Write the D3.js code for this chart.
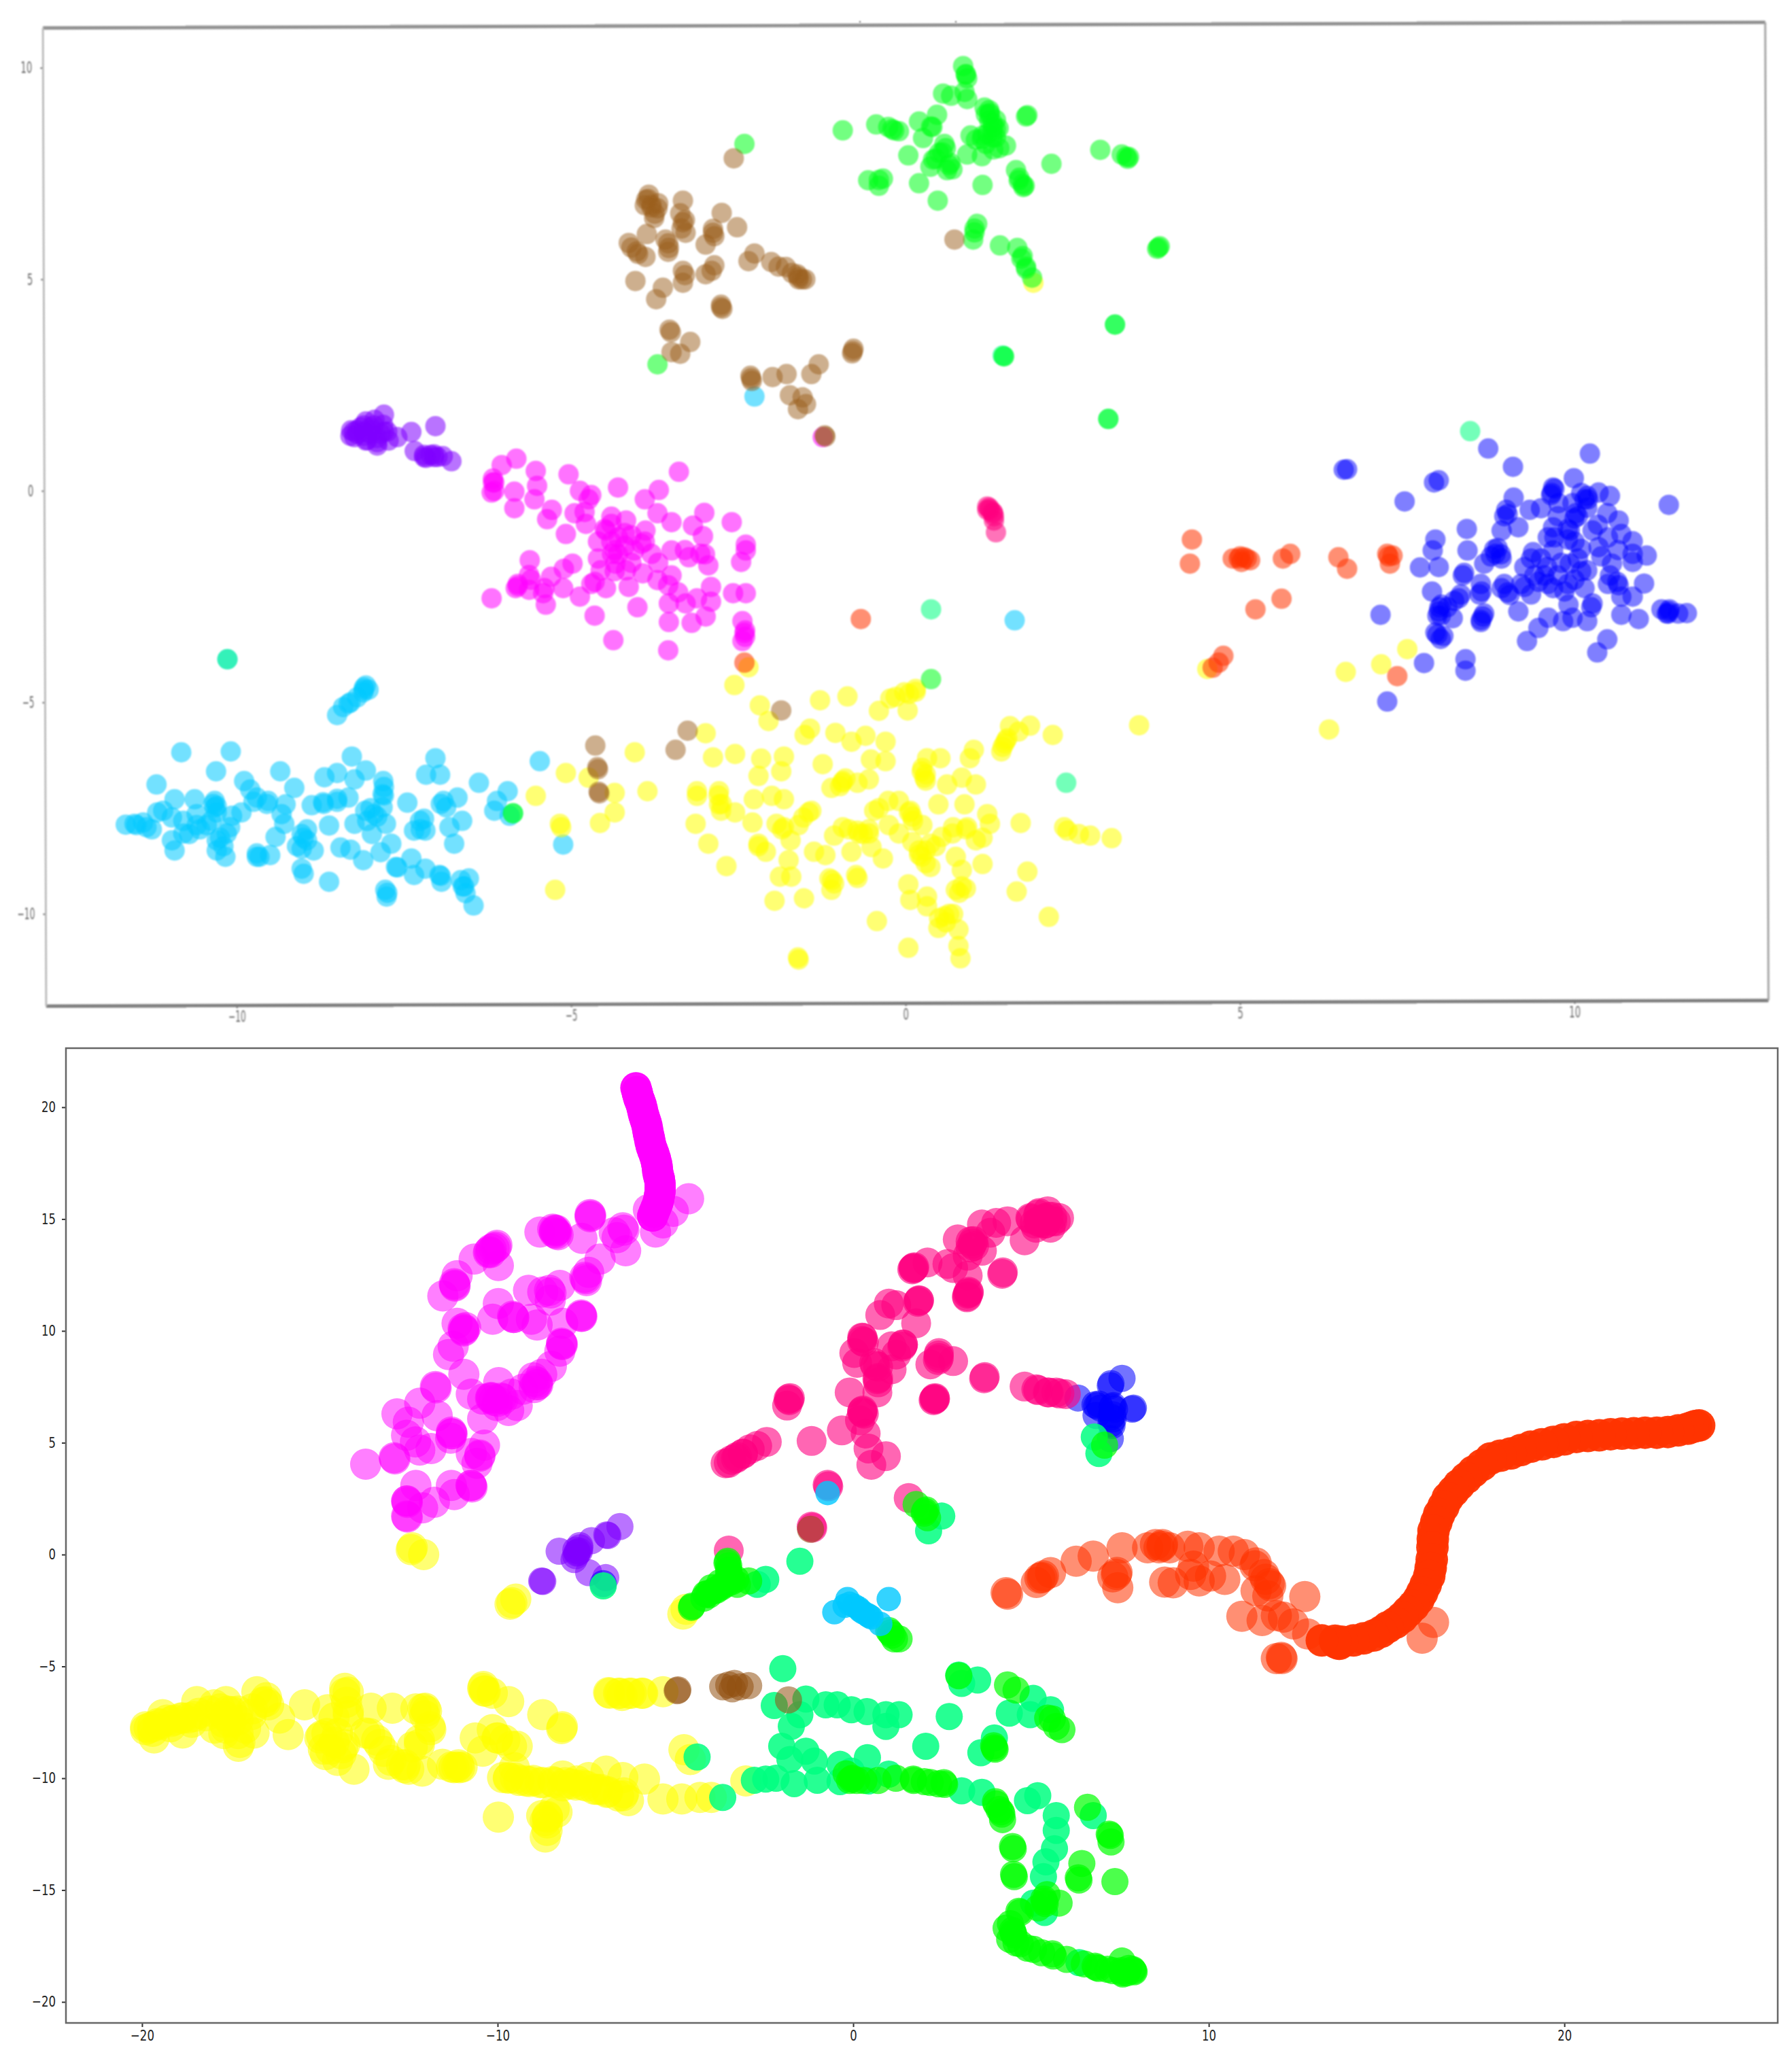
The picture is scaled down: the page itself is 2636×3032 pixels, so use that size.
<!DOCTYPE html>
<html>
<head>
<meta charset="UTF-8">
<title>t-SNE clusters</title>
<script src="https://d3js.org/d3.v7.min.js"></script>
<style>
  html, body { margin: 0; padding: 0; background: #fff; }
  svg { display: block; }
  text { font-family: "DejaVu Sans", sans-serif; }
</style>
</head>
<body>
<svg id="chart" width="2636" height="3032"></svg>
<script>
// ---- upper panel, values
var topTicksX = [-10, -5, 0, 5, 10];
var topTicksY = [-10, -5, 0, 5, 10];

var topPurple = [[-7.8,1.8],[-8.2,1.43],[-8.07,1.64],[-7.94,1.68],[-7.81,1.56],[-8.24,1.27],[-8.07,1.19],[-7.9,1.07],[-7.73,1.19],[-7.6,1.27],[-7.98,1.43],[-8.29,1.43],[-7.85,1.35],[-8.1,1.3],[-7.39,1.39],[-7.03,1.53],[-7.34,.94],[-7.17,.78],[-7.05,.86],[-6.92,.82],[-6.79,.7],[-7.2,.85],[-7,.8],[-8,1.5],[-8.15,1.5],[-7.75,1.4]];
var topPurpleCore = [[-8,1.35],[-8.1,1.4],[-7.9,1.25],[-8.2,1.35],[-8.05,1.2],[-7.8,1.4],[-8.25,1.4],[-7.95,1.55],[-8.1,1.55],[-7.9,1.15],[-8.3,1.3],[-7.1,.85],[-7.05,.8],[-7.2,.8]];
var topBlue = [[6.6,.51],[6.55,.5],[7.97,.25],[7.9,.2],[7.46,-.25],[8.71,1],[9.08,.57],[10.23,.88],[9.99,.3],[9.68,.08],[9.66,-.05],[11.41,-.33],[9.09,-.16],[8.98,-.45],[8.95,-.6],[9.33,-.45],[9.5,-.41],[9.76,-.29],[9.97,-.29],[10.19,-.12],[10.15,-.2],[10.1,-.05],[10.36,-.04],[10.53,-.12],[10.02,-.53],[10,-.65],[10.49,-.53],[10.66,-.7],[8.39,-.9],[7.92,-1.15],[8.91,-.94],[9.16,-.86],[9.68,-.86],[9.93,-.94],[10.27,-.94],[10.7,-1.02],[10.87,-1.19],[7.88,-1.41],[8.4,-1.41],[8.82,-1.49],[8.8,-1.38],[8.91,-1.6],[9.38,-1.45],[9.68,-1.41],[10.1,-1.37],[10.36,-1.33],[10.87,-1.49],[11.08,-1.53],[10.56,-1.72],[10.87,-1.68],[7.69,-1.81],[7.97,-1.8],[8.35,-1.94],[8.33,-2],[8.65,-1.72],[9.25,-1.8],[9.59,-1.8],[9.93,-1.72],[10.19,-1.88],[10.53,-2],[10.66,-2.23],[10.64,-2.15],[11.04,-2.19],[7.87,-2.38],[8.27,-2.54],[8.2,-2.6],[8.01,-2.69],[7.98,-2.75],[7.97,-2.85],[7.95,-2.95],[8.18,-3.01],[8.61,-2.38],[8.58,-2.45],[8.91,-2.3],[9.03,-2.46],[9,-2.4],[9.25,-2.27],[9.46,-2.15],[9.68,-2.3],[9.85,-2.38],[10.15,-2.3],[10.27,-2.66],[10.25,-2.75],[10.87,-2.5],[9.91,-2.69],[9.16,-2.85],[8.63,-2.97],[8.6,-3.05],[7.1,-2.93],[8.04,-3.43],[8,-3.5],[7.92,-3.35],[9.46,-3.24],[9.61,-3],[9.83,-3.08],[9.97,-3],[10.19,-3.08],[10.7,-2.93],[10.96,-3.03],[11.41,-2.85],[11.38,-2.9],[11.42,-2.8],[11.68,-2.89],[11.55,-2.9],[9.29,-3.55],[10.49,-3.51],[10.34,-3.82],[7.75,-4.07],[8.37,-3.98],[8.37,-4.25],[7.2,-4.98],[9.6,-1.1],[9.9,-1.15],[9.55,-2],[9.75,-2],[10,-2.1],[9.35,-1.6],[10.05,-1.6],[10.4,-1.55],[9.75,-.6]];
var topBlueCore = [[10.19,-.4],[10.05,-.6],[9.9,-.9],[10,-1.2],[10.2,-.2],[9.7,-1.1],[9.5,-1.6],[9.8,-1.7],[10.1,-1.9],[9.4,-2],[9.6,-2.2],[9.9,-2.2],[9.2,-2.2],[9.35,-2.45],[8.85,-1.35],[8.9,-1.5],[8.75,-1.55],[10.35,-.8],[10.5,-1.1],[10.65,-1.4],[10.5,-2.2],[10.7,-2.5],[8.1,-2.75],[8,-2.95],[8.3,-2.45],[7.95,-3.4],[8.6,-3.1],[8.65,-2.9],[8.6,-2.2],[8.95,-2.2],[9,-.55],[11.3,-2.8],[11.4,-2.9],[9.65,-.1],[9.7,.05]];
var topCyan = [[-8.07,-4.6],[-8.03,-4.7],[-8.1,-4.65],[-8.11,-4.76],[-8.2,-4.88],[-8.33,-5.03],[-8.41,-5.11],[-8.5,-5.3],[-10.83,-6.18],[-10.09,-6.16],[-10.31,-6.63],[-11.2,-6.94],[-9.35,-6.63],[-9.89,-6.86],[-9.8,-7.06],[-8.28,-6.28],[-8.07,-6.61],[-8.5,-6.67],[-8.69,-6.77],[-8.24,-6.82],[-7.81,-6.86],[-7.03,-6.32],[-7.17,-6.71],[-6.96,-6.71],[-6.38,-6.9],[-5.95,-7.1],[-5.47,-6.39],[-9.14,-7.02],[-9.7,-7.25],[-9.53,-7.33],[-9.27,-7.41],[-10.33,-7.33],[-10.3,-7.45],[-10.63,-7.29],[-10.93,-7.29],[-10.33,-7.48],[-11.1,-7.56],[-11.4,-7.84],[-11.66,-7.89],[-11.53,-7.87],[-11.27,-8],[-11.19,-7.6],[-10.97,-7.72],[-10.8,-7.8],[-10.6,-7.64],[-10.38,-7.8],[-10.07,-7.68],[-9.93,-7.6],[-10.97,-8.26],[-10.71,-8.11],[-10.93,-8.5],[-10.3,-8.26],[-10.3,-8.5],[-10.17,-8.65],[-9.7,-8.57],[-9.66,-8.65],[-9.5,-8.61],[-9.42,-8.18],[-9.29,-7.87],[-9.33,-7.64],[-9.03,-8.11],[-8.95,-8.26],[-9.03,-8.46],[-8.85,-8.5],[-8.62,-7.91],[-8.88,-7.43],[-8.71,-7.36],[-8.5,-7.28],[-8.33,-7.25],[-8.08,-7.56],[-7.95,-7.64],[-7.82,-7.48],[-7.82,-7.17],[-8.24,-7.87],[-7.98,-8.11],[-7.77,-7.87],[-8.45,-8.43],[-8.3,-8.48],[-8.11,-8.73],[-7.85,-8.54],[-7.69,-8.34],[-9.03,-8.93],[-9,-9.05],[-8.62,-9.24],[-7.78,-9.43],[-7.76,-9.59],[-7.62,-8.89],[-7.39,-8.69],[-7.35,-9.08],[-7.18,-8.93],[-6.97,-9.08],[-6.94,-9.24],[-6.53,-9.16],[-6.62,-9.35],[-6.58,-9.51],[-6.46,-9.8],[-7.45,-7.37],[-7.26,-7.8],[-7.18,-8.03],[-7.35,-8.03],[-6.75,-8.34],[-6.7,-7.25],[-6.91,-7.33],[-6.87,-7.48],[-6.63,-7.8],[-6.82,-7.95],[-6.11,-7.33],[-6.15,-7.56],[-5.92,-7.68],[-5.12,-8.36],[1.63,-3.06],[-2.26,2.23],[-10.14,-3.98],[-10.55,-8],[-10.15,-8.1],[-10.1,-7.95]];
var topCyanCore = [[-10.3,-7.6],[-10.35,-7.4],[-10.45,-7.9],[-10.25,-8.2],[-10.2,-8.4],[-10.6,-7.9],[-10.8,-8.1],[-9.75,-7.35],[-9.55,-7.4],[-11.5,-7.9],[-11.35,-7.95],[-8,-7.5],[-7.9,-7.7],[-8.05,-7.8],[-9,-8.2],[-8.95,-8],[-9.1,-8.4],[-8.5,-7.35],[-8.7,-7.4],[-7.8,-7.2],[-7.8,-7],[-7.25,-8],[-7.2,-7.75],[-6.95,-7.4],[-6.6,-9.35],[-6.65,-9.2],[-9.7,-8.65],[-7.75,-9.5],[-8.1,-4.7],[-8.3,-5],[-6.95,-9.1],[-7.6,-8.9]];
var topSpring = [[3.13,3.93],[1.47,3.18],[1.45,3.2],[-10.14,-3.98],[-5.87,-7.62],[.38,-2.8],[2.4,-6.9],[3.03,1.7],[8.44,1.41]];
var topYellow = [[1.91,4.92],[4.51,-4.21],[-2.35,-4.17],[7.5,-3.74],[7.11,-4.1],[6.58,-4.28],[6.33,-5.64],[3.49,-5.54],[2.2,-5.77],[1.86,-5.55],[1.56,-5.56],[1.69,-5.69],[1.48,-5.97],[1.43,-6.16],[1.52,-5.85],[1.02,-6.12],[.96,-6.32],[.52,-6.32],[.32,-6.32],[.24,-6.63],[.28,-6.78],[.84,-6.78],[1.05,-6.94],[.62,-6.94],[.88,-7.41],[.49,-7.41],[.07,-7.56],[.11,-7.8],[-.1,-7.33],[1.22,-7.64],[1.26,-7.87],[1.72,-7.85],[.71,-7.95],[.92,-7.95],[1.05,-8.26],[.54,-8.18],[.37,-8.34],[.2,-8.5],[.24,-8.65],[.37,-8.89],[.75,-8.65],[.84,-8.96],[1.15,-8.82],[1.82,-9],[1.66,-9.47],[.04,-9.3],[.75,-9.43],[.84,-9.35],[.07,-9.67],[.32,-9.59],[.32,-9.82],[.58,-10.05],[.71,-10],[.49,-10.33],[.79,-10.37],[2.14,-10.07],[.04,-10.8],[.79,-10.76],[.82,-11.05],[2.42,-8.03],[2.59,-8.11],[2.76,-8.15],[3.08,-8.21],[2.37,-7.95],[-2.56,-4.59],[-2.18,-5.07],[-2.05,-5.44],[-2.99,-5.73],[-1.28,-4.95],[-.87,-4.86],[-.4,-5.2],[-.23,-4.91],[-4.05,-6.18],[-2.88,-6.3],[-2.55,-6.22],[-2.16,-6.33],[-1.82,-6.28],[-1.43,-5.62],[-1.51,-5.77],[-1.05,-5.72],[-.81,-5.93],[-.6,-5.79],[-.3,-5.93],[-1.24,-6.46],[-.52,-6.35],[-.3,-6.39],[-2.2,-6.74],[-1.86,-6.63],[-.98,-6.98],[-.94,-6.86],[-.55,-6.82],[-1.11,-7.02],[-.72,-6.9],[-5.08,-6.67],[-4.74,-6.78],[-5.53,-7.21],[-4.35,-7.14],[-3.86,-7.1],[-4.35,-7.6],[-4.57,-7.85],[-5.17,-7.87],[-5.15,-7.95],[-5.24,-9.43],[-3.12,-7.21],[-3.12,-7.1],[-2.79,-7.1],[-2.79,-7.41],[-2.76,-7.56],[-2.55,-7.6],[-3.14,-7.87],[-2.95,-8.34],[-2.68,-8.87],[-2.27,-7.29],[-2,-7.21],[-1.82,-7.29],[-2.29,-7.84],[-1.93,-7.87],[-1.82,-7.95],[-1.72,-8.26],[-1.41,-7.56],[-1.53,-7.72],[-2.2,-8.34],[-2.09,-8.53],[-1.75,-8.73],[-1.88,-9.12],[-1.71,-9.12],[-1.37,-8.53],[-1.2,-8.61],[-1.14,-9.16],[-1.07,-9.28],[-1.11,-9.43],[-.74,-9.08],[-.72,-9.15],[-1.96,-9.69],[-1.52,-9.63],[-.43,-10.17],[-1.61,-11.03],[-1.6,-11.08],[-1.07,-8.15],[-.94,-7.95],[-.72,-8.03],[-.55,-8],[-.47,-7.56],[-.26,-7.33],[-.81,-8.53],[-.51,-8.42],[-.34,-8.69],[-.64,-8.11],[-.02,-4.76],[.15,-4.68],[.03,-5.19],[-.15,-4.87],[-.1,-8.1],[.1,-8.3],[.25,-7.9]];
var topYellowCore = [[.3,-6.7],[.25,-6.55],[.3,-6.85],[.05,-7.6],[.1,-7.7],[.45,-8.4],[.3,-8.5],[.2,-8.6],[.3,-8.8],[.7,-8.1],[.9,-9.4],[.8,-9.5],[.5,-10.1],[.6,-10.2],[.65,-10],[-.55,-8.1],[-.7,-8.1],[-.85,-8],[-.4,-7.5],[-.95,-6.9],[-.9,-6.8],[-2.8,-7.2],[-2.75,-7.4],[-1.45,-7.6],[-1.6,-7.9],[-2.2,-8.4],[-1.1,-9.2],[1.5,-5.9],[1.45,-6.05],[.05,-4.8],[.15,-4.75],[-.25,-7.9],[.9,-8],[1.15,-8.2],[-1.85,-8]];
var topGreen = [[-2.41,8.2],[-.94,8.52],[-.44,8.66],[-.26,8.6],[-.17,8.52],[-.56,7.34],[-.34,7.38],[-.4,7.21],[-3.71,2.99],[.86,10.04],[.9,9.84],[.92,9.75],[.56,9.39],[.68,9.34],[.88,9.43],[.92,9.26],[1.18,9.06],[1.26,8.93],[1.35,8.77],[1.31,8.6],[1.22,8.44],[1.14,8.32],[1.39,8.57],[1.35,8.36],[1.5,8.16],[1.25,8.75],[1.3,8.5],[1.2,8.9],[1.82,8.88],[1.8,8.85],[.2,8.73],[.47,8.89],[.38,8.61],[.26,8.34],[-.1,8.5],[.04,7.93],[.58,8.2],[.5,7.99],[.41,7.83],[.37,7.66],[.62,7.58],[.67,7.75],[.92,7.95],[1.14,7.91],[.97,8.4],[1.31,8.07],[.2,7.27],[.48,6.86],[1.15,7.23],[1.65,7.58],[1.69,7.34],[1.78,7.21],[1.76,7.18],[2.18,7.73],[2.91,8.06],[3.23,7.95],[3.34,7.89],[3.32,7.85],[1.07,6.31],[1.03,6.11],[1.01,5.94],[1.41,5.8],[1.67,5.74],[1.73,5.49],[1.8,5.25],[1.89,5.04],[3.78,5.75],[3.76,5.72],[3.8,5.78],[3.13,3.93],[1.47,3.18],[3.03,1.7],[.38,-4.45],[-5.87,-7.62]];
var topGreenCore = [[1.25,8.9],[1.3,8.7],[1.35,8.55],[1.3,8.35],[1.15,8.4],[1.2,8.2],[1.4,8.1],[1.05,8.3],[.55,8],[.45,7.85],[.65,7.7],[.6,8.1],[.7,7.6],[1.7,7.4],[1.75,7.25],[.9,9.85],[1.03,6.2],[1.25,9],[.4,8.6],[3.3,7.9],[1.8,5.3],[1.75,5.55],[-.4,7.35],[-.2,8.55]];
var topBrown = [[-2.57,7.86],[-3.84,7],[-3.8,6.76],[-3.88,6.88],[-3.71,6.68],[-3.33,6.86],[-3.76,6.45],[-3.37,6.56],[-3.33,6.35],[-3.29,6.1],[-2.75,6.57],[-2.52,6.23],[-2.88,6.19],[-2.86,6.02],[-2.99,5.82],[-3.87,6.07],[-3.59,5.94],[-3.54,5.74],[-4.14,5.86],[-4.02,5.66],[-3.89,5.53],[-2.86,5.33],[-3.33,5.2],[-2.99,5.12],[-3.33,4.92],[-3.63,4.8],[-4.04,4.96],[-3.73,4.53],[-2.76,4.34],[-2.74,4.3],[-2.26,5.61],[-2.35,5.43],[-2.01,5.41],[-1.79,5.29],[-1.62,5.12],[-1.55,5],[-1.6,5.06],[-3.53,3.81],[-3.51,3.75],[-3.22,3.52],[-3.5,3.28],[-3.37,3.24],[-.79,3.3],[-.8,3.25],[-.78,3.36],[-2.31,2.66],[-2.3,2.6],[-2.32,2.72],[-1.99,2.69],[-1.78,2.76],[-1.41,2.76],[-1.3,2.99],[-1.73,2.26],[-1.54,2.21],[-1.49,2.05],[-1.61,1.93],[-1.21,1.31],[-1.2,1.28],[.73,5.94],[-4.64,-6.02],[-4.61,-6.53],[-4.6,-6.58],[-4.59,-7.11],[-4.58,-7.15],[-3.44,-6.12],[-3.26,-5.67],[-1.86,-5.19]];
var topBrownCore = [[-3.85,6.9],[-3.8,6.7],[-3.75,6.55],[-3.7,6.8],[-3.9,6.75],[-3.3,6.4],[-3.35,6.2],[-2.88,6.1],[-3.55,5.85],[-3.55,5.65],[-4,5.6],[-4.1,5.75],[-1.6,5],[-1.7,5.15],[-1.9,5.3],[-1.5,5],[-2.76,4.4],[-3.3,5.1],[-2.9,5.2]];
var topOrange = [[4.28,-1.15],[4.25,-1.72],[4.89,-1.6],[4.98,-1.6],[5.06,-1.57],[5.15,-1.64],[5.02,-1.68],[5.1,-1.6],[5,-1.55],[5.64,-1.6],[5.75,-1.49],[6.47,-1.57],[6.6,-1.84],[7.2,-1.49],[7.28,-1.53],[7.24,-1.72],[7.22,-1.55],[5.23,-2.8],[5.62,-2.55],[4.75,-3.9],[4.68,-4.06],[4.59,-4.18],[7.35,-4.38],[-.67,-3.03],[-2.41,-4.06]];
var topPink = [[1.22,-.37],[1.31,-.53],[1.26,-.45],[1.32,-.7],[1.35,-.98],[1.25,-.4],[1.3,-.5],[1.22,-.45],[1.32,-.6]];
var topMagenta = [[-5.82,.76],[-6.04,.61],[-6.17,.29],[-6.19,-.04],[-6.17,.2],[-5.53,.47],[-5.51,.12],[-5.04,.39],[-5.85,-.02],[-5.55,-.2],[-5.85,-.41],[-5.29,-.45],[-5.36,-.67],[-4.3,.08],[-4.87,0],[-4.74,-.2],[-3.69,.02],[-3.39,.45],[-3.9,-.2],[-3.71,-.53],[-3.5,-.74],[-3.01,-.52],[-3.18,-.82],[-2.6,-.74],[-4.95,-.53],[-4.78,-.78],[-4.4,-.61],[-4.18,-.7],[-3.89,-.94],[-5.08,-1.02],[-4.48,-.94],[-4.4,-.78],[-3.03,-1.07],[-2.39,-1.27],[-2.39,-1.41],[-2.46,-1.68],[-2.95,-1.76],[-3.07,-1.49],[-3.24,-1.57],[-3.5,-1.41],[-3.8,-1.49],[-3.93,-1.95],[-3.71,-2.11],[-4.18,-1.88],[-4.39,-1.49],[-4.35,-1.4],[-4.34,-1.72],[-4.56,-1.88],[-4.98,-1.72],[-5.11,-1.84],[-5.62,-1.64],[-5.63,-1.99],[-5.3,-2.03],[-5.83,-2.3],[-5.8,-2.25],[-5.63,-2.34],[-5.42,-2.42],[-5.12,-2.3],[-5.38,-2.69],[-4.87,-2.5],[-4.48,-2.3],[-4.65,-2.15],[-6.19,-2.54],[-4.65,-2.95],[-4.01,-2.75],[-3.54,-2.66],[-3.54,-3.1],[-3.2,-3.12],[-2.99,-2.97],[-3.29,-2.66],[-2.91,-2.27],[-2.91,-2.62],[-3.12,-2.54],[-2.58,-2.42],[-2.39,-2.42],[-2.44,-3.08],[-2.41,-3.36],[-2.44,-3.55],[-4.37,-3.53],[-3.55,-3.77],[-3.55,-2.23],[-4.14,-2.27],[-4.06,-1.41],[-4.6,-1.2],[-4.3,-1.1],[-4.1,-1.05],[-3.95,-1.25],[-4.2,-1.3],[-1.24,1.27]];
var topMagentaCore = [[-4.4,-1.2],[-4.2,-1],[-4.3,-1.5],[-4.1,-1.7],[-4.5,-.9],[-3.9,-1.2],[-4.35,-1.9],[-3.7,-1.7],[-3.5,-2],[-3.4,-2.4],[-5.8,-2.2],[-5.6,-2.1],[-5.4,-2.3],[-4.7,-2.2],[-4.6,-1.6],[-6.15,.2],[-6.15,0],[-2.4,-3.3],[-2.4,-3.45],[-4.8,-.5],[-4.7,-.1],[-3.3,-1.4],[-3,-1.5]];

// ---- lower panel
var bottomTicksX = [-20, -10, 0, 10, 20];
var bottomTicksY = [-20, -15, -10, -5, 0, 5, 10, 15, 20];

var bottomYellow = [[-12.43,.22],[-12.4,.3],[-12.08,0],[-9.65,-2.22],[-9.6,-2.15],[-9.49,-1.99],[-4.79,-2.66],[-4.7,-2.45],[-19.9,-7.83],[-19.8,-7.75],[-19.7,-7.9],[-19.66,-8.2],[-19.42,-7.16],[-19.18,-7.46],[-18.86,-7.31],[-18.46,-6.57],[-18.86,-7.98],[-18.54,-7.24],[-17.97,-6.72],[-17.64,-6.57],[-17.48,-7.02],[-17.97,-7.76],[-17.64,-7.76],[-17.29,-8.57],[-17.25,-8.4],[-16.77,-6.13],[-16.52,-6.57],[-16.44,-6.72],[-16.93,-7.16],[-17.09,-7.76],[-16.85,-7.98],[-16.13,-7.31],[-15.89,-8.05],[-15.43,-6.72],[-14.78,-6.94],[-14.3,-5.98],[-14.2,-6.15],[-13.56,-6.87],[-14.2,-7.02],[-15,-8.2],[-14.95,-8.1],[-14.84,-8.94],[-14.36,-8.64],[-14.3,-8.5],[-14.04,-9.6],[-13.72,-7.98],[-13.32,-8.49],[-13.07,-9.38],[-12.62,-9.53],[-12.6,-9.4],[-12.96,-6.87],[-12.04,-6.87],[-12,-7],[-12.3,-6.9],[-11.88,-7.83],[-12.2,-8.49],[-12.12,-9.68],[-11.55,-9.38],[-11.23,-9.53],[-11.07,-9.53],[-11.1,-9.4],[-12.4,-8.6],[-18.2,-7.2],[-17.7,-7.2],[-17.3,-7.4],[-19.55,-7.55],[-19.2,-7.7],[-18.6,-7.5],[-14.5,-8],[-14.6,-7.3],[-14.7,-8.7],[-10.42,-5.98],[-10.38,-6.1],[-10.15,-6.2],[-9.69,-6.57],[-8.73,-7.16],[-8.2,-7.78],[-8.18,-7.7],[-10.63,-8.2],[-10.42,-8.79],[-10.15,-7.83],[-10.02,-8.2],[-9.61,-8.57],[-9.45,-8.57],[-9.86,-9.97],[-9.53,-9.53],[-9.69,-9.97],[-9.21,-10.12],[-8.73,-10.19],[-8.17,-9.9],[-8.17,-10.34],[-7.77,-10.12],[-7.44,-9.97],[-7.28,-10.49],[-6.95,-9.68],[-6.92,-10.64],[-6.48,-9.97],[-6.48,-10.78],[-6.45,-10.65],[-5.87,-10.04],[-6.32,-11],[-5.35,-10.93],[-4.82,-10.93],[-4.31,-10.86],[-3.99,-10.86],[-9.98,-11.74],[-8.76,-11.67],[-8.41,-11.37],[-8.33,-11.52],[-8.66,-11.89],[-8.6,-11.75],[-8.61,-12.33],[-8.66,-12.63],[-9.5,-10],[-9,-10.1],[-8.45,-10.15],[-7.95,-10.25],[-7.6,-10.3],[-7.1,-10.5],[-6.88,-6.17],[-6.56,-6.2],[-6.5,-6.3],[-6.24,-6.2],[-5.92,-6.2],[-5.35,-6.13],[-4.76,-8.72],[-4.58,-9.16],[-3.02,-10.12]];
var bottomYellowCore = [[-19.9,-7.7],[-19.7,-7.7],[-19.5,-7.6],[-19.3,-7.4],[-19.1,-7.4],[-18.9,-7.3],[-18.7,-7.3],[-18.4,-7.1],[-18.1,-7],[-17.8,-6.9],[-17.6,-7],[-17.7,-7.5],[-17.5,-7.5],[-17.7,-8],[-17.3,-8],[-17.3,-7],[-16.9,-6.9],[-16.6,-6.6],[-16.5,-6.4],[-14.3,-6.2],[-14.25,-6.6],[-14.2,-7.2],[-14.8,-8],[-14.6,-8.4],[-14.4,-8.9],[-14.9,-8.7],[-14.5,-9.2],[-13.6,-8],[-13.4,-8.3],[-13.2,-8.8],[-13,-9.2],[-12.7,-9.4],[-12.5,-9.6],[-12.1,-6.9],[-12.05,-7.2],[-11.9,-7.7],[-12.2,-8.3],[-11.3,-9.5],[-11.15,-9.5],[-11,-9.5],[-10.4,-5.9],[-10.35,-6.1],[-10,-8.2],[-9.8,-8.3],[-9.7,-10],[-9.4,-10.1],[-9.1,-10.15],[-8.8,-10.2],[-8.4,-10.2],[-8.1,-10.2],[-7.8,-10.3],[-7.5,-10.35],[-7.2,-10.5],[-6.9,-10.6],[-6.6,-10.8],[-8.6,-11.7],[-8.6,-12],[-6.6,-6.2],[-6.3,-6.2],[-5.95,-6.2],[-6.85,-6.2]];
var bottomPurple = [[-7.77,.07],[-7.7,.15],[-7.8,-.05],[-7.85,-.22],[-7.69,.3],[-8.27,.15],[-7.44,-.81],[-8.76,-1.18],[-8.73,-1.2],[-6.96,-1.03],[-6.56,1.25],[-6.93,.88],[-6.9,.85],[-7.36,.62],[-7.69,.4],[-7.75,.1],[-7.8,.2]];
var bottomBlue = [[7.56,7.88],[7.25,7.64],[7.23,7.55],[6.32,7],[6.91,6.73],[6.85,6.65],[6.95,6.55],[6.8,6.7],[6.83,6.22],[7.31,6.66],[7.28,6.6],[7.35,6.5],[7.31,6.07],[7.25,6.15],[7.3,6.25],[7.28,5.77],[7.25,5.85],[7.88,6.55],[7.85,6.5],[7.23,5.18],[-7.03,-1.3]];
var bottomPink = [[-3.59,4.08],[-3.42,4.23],[-3.26,4.37],[-3.1,4.52],[-2.91,4.71],[-2.7,4.86],[-2.43,5.04],[-1.82,6.95],[-1.78,7],[-1.86,6.66],[-1.17,5.08],[-.32,5.55],[-.1,7.25],[.27,6.44],[.25,6.35],[.35,5.41],[.43,4.74],[.51,4.01],[.92,4.4],[.03,9.01],[.27,9.68],[.25,9.55],[.11,8.57],[.59,8.57],[.62,8.45],[.68,7.84],[.7,7.7],[.68,7.25],[.76,10.71],[1,11.22],[1.08,9.31],[1.08,8.28],[.19,6],[-.72,3.12],[-.7,3.05],[-1.17,1.25],[-1.15,1.2],[-3.5,.18],[5.39,15.05],[4.98,15.05],[5.23,15.27],[5.47,15.35],[5.79,15.05],[5.55,14.61],[5.14,14.61],[5.4,14.8],[5.6,14.9],[5.25,14.85],[4.82,14.05],[4.34,14.9],[4.02,14.83],[3.62,14.76],[3.62,13.58],[3.86,14.39],[3.38,14.02],[3.35,13.9],[2.94,14.09],[3.3,13.73],[3.22,13.36],[2.09,13.06],[1.69,12.81],[1.66,12.75],[1.72,12.85],[2.65,12.99],[2.81,12.81],[3.22,12.47],[3.22,11.66],[3.2,11.55],[3.25,11.75],[4.21,12.62],[4.19,12.55],[1.85,11.37],[1.82,11.3],[1.21,11.15],[1.77,10.34],[1.4,9.38],[1.38,9.3],[1.21,8.94],[2.41,9.01],[2.41,8.79],[2.38,8.7],[2.17,8.5],[2.81,8.65],[3.7,7.94],[3.68,7.88],[2.28,6.95],[2.26,6.9],[2.3,7],[4.82,7.51],[5.15,7.39],[5.47,7.25],[5.71,7.25],[5.98,7.17],[1.56,2.53]];
var bottomPinkCore = [[5,15],[5.2,14.9],[5.4,15],[5.5,15.1],[5.7,14.9],[5.2,15.2],[5.4,14.8],[5.1,14.8],[5.6,15.1],[1.7,12.8],[.3,9.5],[.25,9.7],[.7,8.4],[.7,7.9],[.25,6.4],[.3,6.3],[3.3,14],[3.4,13.8],[3.25,11.7],[3.2,11.5],[2.3,6.95],[2.4,8.9],[1.85,11.35],[1.4,9.4],[-3.5,4.1],[-3.3,4.3],[-3.1,4.5],[-1.8,6.9],[5.2,7.35],[5.5,7.25],[5.8,7.2]];
var bottomMagenta = [[-6.11,20.87],[-6.08,20.7],[-6.06,20.57],[-6.03,20.4],[-6,20.28],[-5.96,20.1],[-5.93,19.91],[-5.9,19.7],[-5.87,19.54],[-5.83,19.35],[-5.8,19.18],[-5.78,19],[-5.76,18.81],[-5.73,18.62],[-5.71,18.44],[-5.68,18.25],[-5.64,18.07],[-5.6,17.9],[-5.56,17.7],[-5.53,17.5],[-5.51,17.33],[-5.5,17.15],[-5.48,16.97],[-5.45,16.8],[-5.43,16.6],[-5.43,16.4],[-5.43,16.23],[-5.45,16.05],[-5.47,15.86],[-5.5,15.7],[-5.55,15.49],[-5.6,15.3],[-5.64,15.13],[-4.63,15.91],[-5.06,15.35],[-5.76,15.42],[-5.35,14.83],[-5.56,14.42],[-7.4,15.2],[-7.38,15.15],[-6.48,14.61],[-6.72,14.39],[-6.4,13.58],[-6.64,14.17],[-7.12,13.21],[-7.63,14.14],[-8.38,14.46],[-8.4,14.5],[-8.35,14.35],[-8.45,14.55],[-8.81,14.42],[-8.3,14.3],[-7.52,12.33],[-7.5,12.25],[-7.44,12.62],[-10.02,13.83],[-10.18,13.65],[-10.26,13.5],[-10.24,13.55],[-10.05,13.75],[-10.66,13.21],[-9.98,12.92],[-11.14,12.47],[-11.22,12.11],[-11.2,12.05],[-11.54,11.56],[-9.13,11.81],[-8.73,11.74],[-8.54,11.81],[-8.25,12.03],[-8.52,11.37],[-9.98,11.22],[-10.14,10.52],[-9.58,10.66],[-9.55,10.6],[-9.05,10.52],[-8.89,10.26],[-8.17,10.34],[-7.65,10.71],[-7.63,10.65],[-11.14,10.34],[-10.95,10.04],[-10.97,10.1],[-11.25,9.31],[-11.38,8.94],[-8.2,9.45],[-8.18,9.4],[-8.25,9.09],[-8.49,8.42],[-10.95,8.06],[-8.76,8.06],[-8.89,7.69],[-8.87,7.6],[-8.97,7.47],[-9.29,7.39],[-11.75,7.51],[-11.73,7.45],[-12.19,6.77],[-11.7,6.21],[-12.83,6.29],[-12.51,5.92],[-12.56,5.33],[-12.31,5.04],[-12.19,4.67],[-11.87,4.74],[-11.3,5.48],[-11.28,5.4],[-11.32,5.2],[-12.91,4.33],[-12.89,4.28],[-13.71,4.04],[-10.74,7.17],[-10.42,6.95],[-10.18,7.03],[-10.16,6.98],[-9.97,7.69],[-10.42,6.07],[-10.02,6.66],[-9.69,6.44],[-9.45,6.66],[-9.61,7.17],[-9.85,6.95],[-10.37,4.89],[-10.5,4.45],[-10.74,4.52],[-10.58,4.08],[-12.3,3.09],[-12.56,2.39],[-12.54,2.33],[-12.11,2.09],[-11.78,2.34],[-12.56,1.72],[-12.54,1.68],[-11.3,3.09],[-11.22,2.68],[-10.74,3.08],[-10.72,3.02]];
var bottomMagentaCore = [[-10.1,13.7],[-10.2,13.5],[-8.4,14.4],[-8.35,14.5],[-7.4,15.1],[-11.2,12],[-10.95,10],[-10.9,10.15],[-9.55,10.6],[-8.2,9.4],[-8.9,7.6],[-8.95,7.75],[-9,7.9],[-10.2,7],[-10.1,6.9],[-10,6.85],[-9.9,7],[-11.3,5.4],[-7.65,10.65],[-7.55,12.4],[-8.5,11.7],[-6.45,14.5],[-10.5,4.4],[-12.55,2.4],[-10.75,3.1]];
var bottomOrange = [[23.79,5.77],[23.7,5.75],[23.6,5.7],[23.47,5.63],[23.2,5.55],[22.91,5.48],[22.6,5.45],[22.27,5.45],[21.95,5.42],[21.62,5.41],[21.3,5.38],[20.98,5.33],[20.66,5.3],[20.34,5.26],[20,5.15],[19.69,5.04],[19.37,4.93],[19.05,4.82],[18.77,4.67],[18.49,4.52],[18.2,4.42],[17.93,4.3],[17.68,4],[17.44,3.71],[17.24,3.42],[17.04,3.12],[16.88,2.83],[16.72,2.53],[16.6,2.15],[16.48,1.8],[16.4,1.45],[16.32,1.06],[16.3,.7],[16.29,.32],[16.27,-.22],[16.24,-.6],[16.2,-.96],[16.1,-1.35],[16,-1.7],[15.9,-2],[15.76,-2.29],[15.6,-2.55],[15.44,-2.81],[15.25,-3.05],[15.03,-3.25],[14.85,-3.45],[14.63,-3.62],[14.35,-3.75],[14.07,-3.84],[13.67,-3.99],[13.6,-3.95],[13.75,-3.9],[13.55,-3.85],[13.18,-3.84],[12.78,-3.55],[12.38,-3.1],[12.1,-2.8],[16.32,-3.03],[16,-3.74],[10.93,-2.76],[11.5,-2.95],[11.9,-2.73],[12.7,-1.88],[11.74,-1.4],[11.7,-1.3],[11.33,-1.62],[11.66,-1.85],[11.33,-.37],[11.3,-.5],[11,0],[10.69,.15],[10.29,.15],[9.73,.3],[9.41,.37],[8.68,.37],[8.7,.45],[8.6,.3],[8.28,.3],[7.56,.3],[6.75,-.07],[6.27,-.3],[7.4,-.89],[7.42,-.8],[7.44,-1.48],[5.55,-.81],[5.31,-1.03],[5.15,-1.25],[4.34,-1.77],[4.3,-1.7],[11.9,-4.65],[12.06,-4.65],[12.04,-4.6],[8.76,-1.23],[9,-1.26],[9.49,-.89],[9.73,-1.18],[10.05,-.96],[10.45,-1.11],[9.57,-.52],[8.5,.45],[8.9,.3],[7.3,-1],[11.55,-.9],[11.6,-1.1],[5.25,-1.05],[5.35,-.95]];
var bottomSpring = [[6.78,5.26],[6.91,4.52],[2.49,1.72],[2.12,1.06],[2.97,-5.39],[3.05,-5.76],[3.5,-5.61],[5.06,-6.43],[4.39,-7.09],[4.98,-7.16],[5.55,-6.94],[2.7,-7.24],[2.04,-8.57],[3.97,-8.2],[3.59,-8.86],[3.05,-10.56],[3.62,-10.63],[4.9,-11],[5.19,-10.78],[5.71,-11.67],[5.71,-12.33],[6.75,-11.67],[5.66,-13.15],[5.42,-13.74],[5.35,-14.4],[5.38,-16],[6.35,-18.24],[5.07,-15.58],[1.29,-7.16],[-1.98,-5.1],[-1.33,-6.46],[-2.22,-6.75],[-1.5,-7.16],[-1.74,-7.68],[-2.01,-8.57],[-1.78,-9.16],[-1.33,-8.79],[-1.09,-9.23],[-.77,-6.72],[-.45,-6.72],[-.05,-6.94],[.39,-7.02],[.92,-7.16],[.92,-7.68],[.4,-9.08],[-.37,-9.38],[-.05,-9.68],[-2.78,-10.09],[-2.46,-10.04],[-2.17,-10],[-1.66,-10.24],[-1.01,-10.09],[-.37,-10.15],[.43,-10.12],[1,-9.82],[-3.67,-10.86],[-4.39,-9.05],[-7.03,-1.4],[-1.5,-.3],[-2.7,-1.33],[-2.46,-1.11]];
var bottomGreen = [[7.07,4.89],[1.77,2.24],[2.01,1.94],[2,1.85],[2.05,2],[2.09,1.65],[2.97,-5.42],[4.34,-5.83],[4.58,-6.06],[5.47,-7.31],[5.71,-7.68],[5.87,-7.83],[3.97,-8.64],[3.95,-8.55],[3.99,-8.7],[1.69,-10.04],[1.2,-10],[2.17,-10.19],[2.57,-10.27],[2.55,-10.2],[4.02,-11.15],[4,-11.05],[4.18,-11.6],[4.16,-11.5],[4.2,-11.85],[6.59,-11.3],[7.23,-12.56],[7.2,-12.5],[7.25,-12.85],[4.5,-13.15],[4.48,-13.05],[6.43,-13.81],[4.53,-14.4],[4.51,-14.3],[6.35,-14.55],[6.33,-14.45],[7.36,-14.62],[5.38,-15.51],[5.36,-15.4],[5.4,-15.6],[5.79,-15.58],[4.66,-15.95],[4.5,-16.91],[4.48,-16.8],[4.52,-17],[4.42,-16.5],[4.58,-17.36],[5.07,-17.65],[5.63,-17.95],[5.6,-17.85],[6.83,-18.46],[6.8,-18.4],[7.15,-18.54],[7.56,-18.69],[7.54,-18.6],[7.58,-18.75],[7.88,-18.61],[7.86,-18.55],[7.9,-18.65],[7.56,-18.17],[-3.55,-.37],[-3.53,-.3],[-3.5,-.81],[-3.42,-1.11],[-3.75,-1.26],[-3.99,-1.48],[-4.15,-1.77],[-3.26,-1.33],[-2.94,-1.18],[-4.55,-2.36],[-4.53,-2.3],[-3.7,-1.4],[-3.85,-1.6],[-4.05,-1.8],[-3.55,-1.2],[-.05,-10.04],[-.02,-10],[-.1,-10.1],[.1,-10.1],[-.2,-9.8],[1,-3.4],[1.16,-3.77],[1.29,-3.77]];
var bottomGreenCore = [[4.3,-16.7],[4.4,-17.2],[4.7,-17.4],[4.9,-17.6],[5.3,-17.8],[6,-18.1],[6.5,-18.3],[6.9,-18.5],[7.3,-18.6],[7.7,-18.7],[7.75,-18.5],[5.2,-15.8],[5.45,-15.2],[4.7,-16],[-3.9,-1.6],[-3.7,-1.45],[-3.55,-1.3],[-3.4,-1.2],[-3.3,-1.1],[-4.1,-1.75],[-4.2,-1.95],[-3.5,-.7],[-3.5,-.5],[.7,-10.1],[.3,-10.1],[1.7,-10.1],[2,-10.15],[2.4,-10.25],[4.1,-11.4],[5.6,-7.35],[1.05,-3.5],[1.1,-3.6]];
var bottomCyan = [[-.16,-1.99],[.03,-2.29],[.27,-2.58],[.51,-2.81],[.76,-3.1],[-.53,-2.58],[-.24,-2.29],[1,-1.99],[-.72,2.75],[.15,-2.4],[.4,-2.7],[-.1,-2.2],[.2,-2.5],[.45,-2.75]];
var bottomBrown = [[-4.95,-6.09],[-4.93,-6.05],[-3.5,-5.83],[-3.34,-5.76],[-3.18,-5.91],[-2.94,-5.86],[-3.67,-5.91],[-3.4,-6],[-1.82,-6.5],[-1.2,1.13]];

// ---- drawing
var svg = d3.select("#chart");

// the upper panel is a rough photo: slightly turned, slightly soft
var topFrame = {x0: 65.5, x1: 2599, y0: 37, y1: 1476};
var topAngle = -0.19, topCx = 1332, topCy = 757;

var topX = d3.scaleLinear().domain([-12.85, 12.9]).range([topFrame.x0, topFrame.x1]);
var topY = d3.scaleLinear().domain([10.94, -12.18]).range([topFrame.y0, topFrame.y1]);

var topG = svg.append("g").style("filter", "blur(1.3px)");
var topPoints = topG.append("g").attr("transform", "translate(2.4,4.2)");

var topSeries = [
  {pts: topPurple.concat(topPurpleCore), color: "#8000ff", o: 0.55},
  {pts: topBlue.concat(topBlueCore), color: "#0000ff", o: 0.5},
  {pts: topCyan.concat(topCyanCore), color: "#00c8ff", o: 0.55},
  {pts: topSpring, color: "#00ff80", o: 0.55},
  {pts: topYellow.concat(topYellowCore), color: "#ffff00", o: 0.55},
  {pts: topGreen.concat(topGreenCore), color: "#00ff1a", o: 0.55},
  {pts: topOrange, color: "#ff3300", o: 0.55},
  {pts: topPink, color: "#ff0080", o: 0.55},
  {pts: topMagenta.concat(topMagentaCore), color: "#ff00ff", o: 0.55},
  {pts: topBrown.concat(topBrownCore), color: "#9c5f1e", o: 0.5}
];
topSeries.forEach(function(s) {
  topPoints.append("g").selectAll("circle")
    .data(s.pts)
    .enter()
    .append("circle")
    .attr("cx", function(d) { return topX(d[0]); })
    .attr("cy", function(d) { return topY(d[1]); })
    .attr("r", 15)
    .attr("fill", s.color)
    .attr("fill-opacity", s.o);
});

var topAxes = topG.append("g").attr("transform", "rotate(" + topAngle + "," + topCx + "," + topCy + ")");

function squeeze(sel, perChar, minusW) {
  sel.selectAll("text").each(function() {
    var t = this.textContent;
    var w = 0;
    for (var i = 0; i < t.length; i++) w += (t[i] === "\u2212") ? minusW : perChar;
    d3.select(this).attr("textLength", w).attr("lengthAdjust", "spacingAndGlyphs");
  });
}

var topAxisX = topAxes.append("g")
  .attr("transform", "translate(0," + topFrame.y1 + ")")
  .call(d3.axisBottom(topX).tickValues(topTicksX).tickSize(4).tickPadding(4).tickFormat(d3.format("d")));
var topAxisY = topAxes.append("g")
  .attr("transform", "translate(" + topFrame.x0 + ",0)")
  .call(d3.axisLeft(topY).tickValues(topTicksY).tickSize(4).tickPadding(12).tickFormat(d3.format("d")));
[topAxisX, topAxisY].forEach(function(a) {
  a.select(".domain").remove();
  a.selectAll("line").attr("stroke", "#666").attr("stroke-width", 2);
  a.selectAll("text").attr("font-size", 23).attr("fill", "#666").attr("font-family", "'DejaVu Sans', sans-serif");
  squeeze(a, 8.5, 9);
});

// spines differ in weight on this panel
topAxes.append("line").attr("x1", topFrame.x0).attr("x2", topFrame.x1).attr("y1", topFrame.y0).attr("y2", topFrame.y0)
  .attr("stroke", "#8f8f8f").attr("stroke-width", 5);
topAxes.append("line").attr("x1", topFrame.x0).attr("x2", topFrame.x1).attr("y1", topFrame.y1).attr("y2", topFrame.y1)
  .attr("stroke", "#7c7c7c").attr("stroke-width", 5);
topAxes.append("line").attr("x1", topFrame.x0).attr("x2", topFrame.x0).attr("y1", topFrame.y0).attr("y2", topFrame.y1)
  .attr("stroke", "#bdbdbd").attr("stroke-width", 3);
topAxes.append("line").attr("x1", topFrame.x1).attr("x2", topFrame.x1).attr("y1", topFrame.y0).attr("y2", topFrame.y1)
  .attr("stroke", "#a3a3a3").attr("stroke-width", 3);

// what is left of the cut off title
topG.append("text").attr("x", 1265).attr("y", 33).attr("text-anchor", "middle").attr("font-size", 16).attr("fill", "#444").text(".");
topG.append("text").attr("x", 1406).attr("y", 33).attr("text-anchor", "middle").attr("font-size", 16).attr("fill", "#444").text(".");

// lower panel
var botFrame = {x0: 97, x1: 2615, y0: 1542, y1: 2976};
var botX = d3.scaleLinear().domain([-22.14, 26.0]).range([botFrame.x0, botFrame.x1]);
var botY = d3.scaleLinear().domain([22.64, -20.94]).range([botFrame.y0, botFrame.y1]);

var botG = svg.append("g");
var botSeries = [
  {pts: bottomYellow.concat(bottomYellowCore), color: "#ffff00", r: 23, o: 0.55},
  {pts: bottomPurple, color: "#8000ff", r: 20, o: 0.55},
  {pts: bottomBlue, color: "#0000ff", r: 20, o: 0.55},
  {pts: bottomPink.concat(bottomPinkCore), color: "#ff0080", r: 22, o: 0.6},
  {pts: bottomMagenta.concat(bottomMagentaCore), color: "#ff00ff", r: 23, o: 0.5},
  {pts: bottomMagenta.slice(0, 33), color: "#ff00ff", r: 23, o: 0.9},
  {pts: bottomOrange, color: "#ff3300", r: 23, o: 0.55},
  {pts: bottomOrange.slice(0, 54), color: "#ff3300", r: 24, o: 0.9},
  {pts: bottomSpring, color: "#00ff80", r: 20, o: 0.85},
  {pts: bottomGreen.concat(bottomGreenCore), color: "#00ff00", r: 20, o: 0.7},
  {pts: bottomCyan, color: "#00c8ff", r: 18, o: 0.8},
  {pts: bottomBrown, color: "#915111", r: 20, o: 0.55}
];
botSeries.forEach(function(s) {
  botG.append("g").selectAll("circle")
    .data(s.pts)
    .enter()
    .append("circle")
    .attr("cx", function(d) { return botX(d[0]); })
    .attr("cy", function(d) { return botY(d[1]); })
    .attr("r", s.r)
    .attr("fill", s.color)
    .attr("fill-opacity", s.o);
});

var botAxisX = botG.append("g")
  .attr("transform", "translate(0," + botFrame.y1 + ")")
  .call(d3.axisBottom(botX).tickValues(bottomTicksX).tickSize(6).tickPadding(5).tickFormat(d3.format("d")));
var botAxisY = botG.append("g")
  .attr("transform", "translate(" + botFrame.x0 + ",0)")
  .call(d3.axisLeft(botY).tickValues(bottomTicksY).tickSize(6).tickPadding(9).tickFormat(d3.format("d")));
[botAxisX, botAxisY].forEach(function(a) {
  a.select(".domain").remove();
  a.selectAll("line").attr("stroke", "#333").attr("stroke-width", 2);
  a.selectAll("text").attr("font-size", 21).attr("fill", "#222").attr("font-family", "'DejaVu Sans', sans-serif");
  squeeze(a, 10.5, 14);
});

botG.append("rect")
  .attr("x", botFrame.x0).attr("y", botFrame.y0)
  .attr("width", botFrame.x1 - botFrame.x0).attr("height", botFrame.y1 - botFrame.y0)
  .attr("fill", "none").attr("stroke", "#666").attr("stroke-width", 2.5);
</script>
</body>
</html>
